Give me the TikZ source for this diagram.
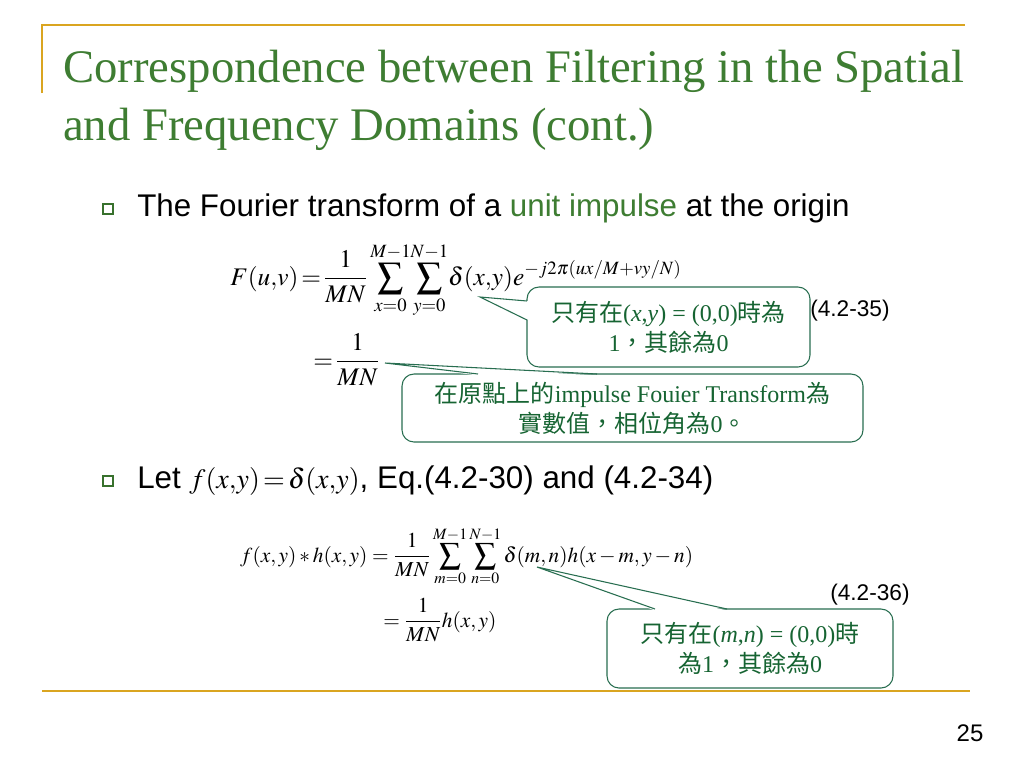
\documentclass[tikz,border=0pt]{standalone}
\usepackage{amsmath}
\usepackage{mathptmx}
\usepackage[no-math]{fontspec}
\setmainfont{Liberation Serif}
\setsansfont{Liberation Sans}
\newfontfamily\cjk{Noto Sans CJK TC}
\usetikzlibrary{calc,shadows}
\definecolor{gold}{RGB}{218,165,32}
\definecolor{titlegreen}{RGB}{62,125,50}
\definecolor{notegreen}{RGB}{22,100,50}
\definecolor{noteedge}{RGB}{40,110,80}
\tikzset{>=stealth}
\tikzset{
  body/.style={anchor=base west,inner sep=0pt,font=\sffamily\fontsize{23.5}{28}\selectfont},
  eqn/.style={anchor=base west,inner sep=0pt},
  note/.style={draw=noteedge,fill=white,line width=.8pt,rounded corners=9pt,
    align=center,text=notegreen,font=\fontsize{18}{22.5}\selectfont},
  bulletbox/.style={draw=titlegreen!90!black,fill=white,minimum size=7.5pt,inner sep=0pt,line width=1pt,
    drop shadow={shadow xshift=.8pt,shadow yshift=-.8pt,opacity=.5}},
}

\begin{document}
\begin{tikzpicture}[x=0.75pt,y=-0.75pt]
\useasboundingbox[fill=white] (0,0) rectangle (1024,768);
% frame lines
\draw[gold,line width=1.6pt] (42,93) -- (42,25) -- (965,25);
\draw[gold,line width=1.6pt] (42,691) -- (970,691);
% title
\node[anchor=base west,inner sep=0pt,text=titlegreen,font=\fontsize{35}{40}\selectfont] (title1) at (63,82) {Correspondence between Filtering in the Spatial};
\node[anchor=base west,inner sep=0pt,text=titlegreen,font=\fontsize{35}{40}\selectfont] (title2) at (63,140) {and Frequency Domains (cont.)};
% first bullet
\node[bulletbox] (b1) at (108,209) {};
\node[body] (line1) at (137,216) {The Fourier transform of a \textcolor{titlegreen}{unit impulse} at the origin};
% callouts
\node[note,minimum width=212.25pt,minimum height=60pt] (n1) at (668.5,327) {{\cjk 只有在}(\textit{x},\textit{y}) = (0,0){\cjk 時為}\\1{\cjk ，其餘為}0};
\node[note,minimum width=345.75pt,minimum height=51pt] (n2) at (632.5,408) {{\cjk 在原點上的}impulse Fouier Transform{\cjk 為}\\{\cjk 實數值，相位角為}0{\cjk 。}};
\node[note,minimum width=214.5pt,minimum height=59.25pt] (n3) at (750,648.5) {{\cjk 只有在}(\textit{m},\textit{n}) = (0,0){\cjk 時}\\{\cjk 為}1{\cjk ，其餘為}0};
\coordinate (t1) at (480,297);
\coordinate (t2) at (385,363);
\coordinate (t3) at (537,567);
\fill[white] (528.5,301) -- (t1) -- (528.5,320) -- cycle;
\draw[noteedge,line width=.8pt] (527,301) -- (t1) -- (527,320);
\fill[white] (478,375.5) -- (t2) -- (597,375.5) -- cycle;
\draw[noteedge,line width=.8pt] (478,374) -- (t2) -- (597,374);
\fill[white] (655,610.5) -- (t3) -- (727,610.5) -- cycle;
\draw[noteedge,line width=.8pt] (655,609) -- (t3) -- (727,609);
% equations
\node[eqn,font=\fontsize{19}{23}\selectfont] (eqa) at (230,285) {$F(u,\!v)\!=\!\dfrac{1}{MN}\displaystyle\sum_{x=0}^{M-1}\!\sum_{y=0}^{N-1}\!\delta(x,\!y)e^{-j2\pi(ux/M+vy/N)}$};
\node[eqn,font=\fontsize{19}{23}\selectfont] (eqb) at (313,368) {$=\!\dfrac{1}{MN}$};
\node[anchor=base west,inner sep=0pt,font=\sffamily\fontsize{17}{20}\selectfont] (num1) at (810,316) {(4.2-35)};
% second bullet
\node[bulletbox] (b2) at (108,481) {};
\node[body] (line2) at (137,488) {Let {\fontsize{21}{26}\selectfont$f(x,\!y)\!=\!\delta(x,\!y)$}, Eq.(4.2-30) and (4.2-34)};
\node[eqn,font=\fontsize{16}{19}\selectfont] (eqc) at (240,562) {$f(x,y)*h(x,y)=\dfrac{1}{MN}\displaystyle\sum_{m=0}^{M-1}\sum_{n=0}^{N-1}\delta(m,n)h(x-m,y-n)$};
\node[eqn,font=\fontsize{16}{19}\selectfont] (eqd) at (383,627) {$=\dfrac{1}{MN}h(x,y)$};
\node[anchor=base west,inner sep=0pt,font=\sffamily\fontsize{17}{20}\selectfont] (num2) at (830,600) {(4.2-36)};
% page number
\node[inner sep=0pt,font=\sffamily\fontsize{18}{20}\selectfont] (page) at (970,733) {25};
\end{tikzpicture}
\end{document}
